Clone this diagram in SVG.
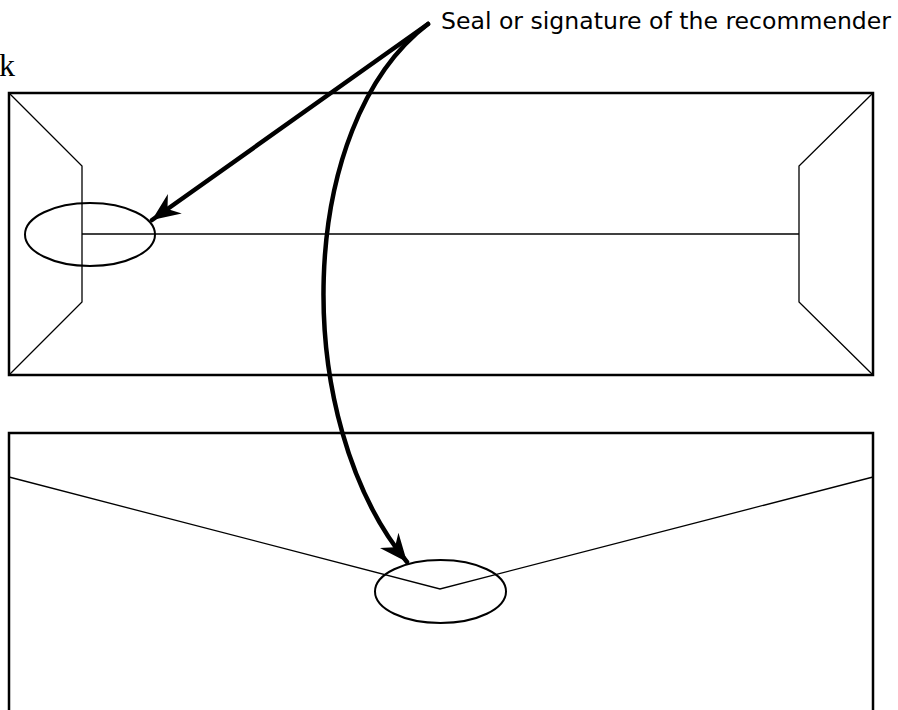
<svg xmlns="http://www.w3.org/2000/svg" width="898" height="710" viewBox="0 0 898 710">
<style>
.env{fill:none;stroke:#000;stroke-width:2.5}
.fold{fill:none;stroke:#000;stroke-width:1.3}
.seal{fill:none;stroke:#000;stroke-width:2}
.arrow{fill:none;stroke:#000;stroke-width:4.5;stroke-linecap:round}
.lbl{font-family:"DejaVu Sans","Noto Sans",sans-serif;font-size:23.5px;fill:#000}
.k{font-family:"Liberation Serif",serif;font-size:32px;fill:#000}
</style>
<defs>
<marker id="ah" markerUnits="userSpaceOnUse" viewBox="-28 -13 30 26" refX="0" refY="0" markerWidth="30" markerHeight="26" orient="auto">
<path d="M0,0 L-28,-12 L-19,0 L-28,12 Z" fill="#000"/>
</marker>
</defs>
<text class="k" x="15" y="76" text-anchor="end">k</text>
<g id="envelope-front">
<rect class="env" x="9" y="93" width="864" height="282"/>
<polyline class="fold" points="9,93 82,166 82,302 9,375"/>
<polyline class="fold" points="873,93 799,166 799,302 873,375"/>
<line class="fold" x1="82" y1="234" x2="799" y2="234"/>
<ellipse id="seal-front" class="seal" cx="90" cy="234.5" rx="65" ry="31.5"/>
</g>
<g id="envelope-back">
<rect class="env" x="9" y="433" width="864" height="290"/>
<polyline class="fold" points="9,477 440,589 873,477"/>
<ellipse id="seal-back" class="seal" cx="440.5" cy="591.5" rx="65.5" ry="31.5"/>
</g>
<g id="label">
<text class="lbl" x="441" y="29" textLength="450" lengthAdjust="spacingAndGlyphs">Seal or signature of the recommender</text>
</g>
<g id="connectors">
<line class="arrow" x1="428" y1="24" x2="152" y2="220" marker-end="url(#ah)"/>
<path class="arrow" d="M428,24 C295,125 290,420 407,562" marker-end="url(#ah)"/>
</g>
</svg>
